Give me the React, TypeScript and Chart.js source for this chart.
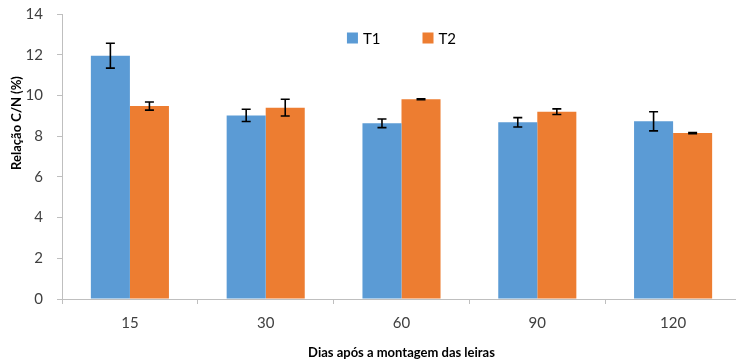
import React, { useEffect, useRef } from "react";
import { Chart, registerables } from "chart.js";

Chart.register(...registerables);

const categories = ["15", "30", "60", "90", "120"];
const t1Values = [11.95, 9.02, 8.63, 8.68, 8.73];
const t1Errors = [0.61, 0.3, 0.21, 0.23, 0.47];
const t2Values = [9.48, 9.4, 9.81, 9.2, 8.15];
const t2Errors = [0.2, 0.41, 0.02, 0.14, 0.03];
const seriesNames = ["T1", "T2"];
const seriesColors = ["#5B9BD5", "#ED7D31"];
const yTicks = [0, 2, 4, 6, 8, 10, 12, 14];

const FONT = "Lato, 'Liberation Sans', sans-serif";
const AXIS_GRAY = "#BFBFBF";
const TEXT_COLOR = "#404040";

const errorBars = {
  id: "errorBars",
  afterDatasetsDraw(chart: any) {
    const ctx = chart.ctx;
    const yScale = chart.scales.y;
    const errs = [t1Errors, t2Errors];
    ctx.save();
    ctx.strokeStyle = "#000000";
    ctx.lineWidth = 1.6;
    chart.data.datasets.forEach((ds: any, di: number) => {
      const meta = chart.getDatasetMeta(di);
      meta.data.forEach((bar: any, i: number) => {
        const v = ds.data[i];
        const e = errs[di][i];
        const x = bar.x;
        const yTop = yScale.getPixelForValue(v + e);
        const yBot = yScale.getPixelForValue(v - e);
        const cap = 4.5;
        ctx.beginPath();
        ctx.moveTo(x, yTop);
        ctx.lineTo(x, yBot);
        ctx.moveTo(x - cap, yTop);
        ctx.lineTo(x + cap, yTop);
        ctx.moveTo(x - cap, yBot);
        ctx.lineTo(x + cap, yBot);
        ctx.stroke();
      });
    });
    ctx.restore();
  },
};

const innerLegend = {
  id: "innerLegend",
  afterDraw(chart: any) {
    const ctx = chart.ctx;
    const area = chart.chartArea;
    const box = 11;
    const gap = 5;
    const spacing = 42;
    ctx.save();
    ctx.font = `15px ${FONT}`;
    const widths = seriesNames.map((n) => ctx.measureText(n).width);
    const total =
      widths.reduce((a, w) => a + box + gap + w, 0) + spacing * (seriesNames.length - 1);
    let x = (area.left + area.right) / 2 - total / 2;
    const cy = 38;
    seriesNames.forEach((name, i) => {
      ctx.fillStyle = seriesColors[i];
      ctx.fillRect(x, cy - box / 2, box, box);
      ctx.fillStyle = "#000000";
      ctx.textBaseline = "middle";
      ctx.textAlign = "left";
      ctx.fillText(name, x + box + gap, cy + 1);
      x += box + gap + widths[i] + spacing;
    });
    ctx.restore();
  },
};

const yTitle = {
  id: "yTitle",
  afterDraw(chart: any) {
    const ctx = chart.ctx;
    ctx.save();
    ctx.translate(17, 123);
    ctx.rotate(-Math.PI / 2);
    ctx.font = `bold 13px ${FONT}`;
    ctx.fillStyle = "#000000";
    ctx.textAlign = "center";
    ctx.textBaseline = "middle";
    ctx.fillText("Relação C/N (%)", 0, 0);
    ctx.restore();
  },
};

export default function App() {
  const canvasRef = useRef<HTMLCanvasElement | null>(null);

  useEffect(() => {
    if (!canvasRef.current) return;
    const chart = new Chart(canvasRef.current, {
      type: "bar",
      data: {
        labels: categories,
        datasets: [
          {
            label: seriesNames[0],
            data: t1Values,
            backgroundColor: seriesColors[0],
          },
          {
            label: seriesNames[1],
            data: t2Values,
            backgroundColor: seriesColors[1],
          },
        ],
      },
      options: {
        animation: false,
        responsive: false,
        maintainAspectRatio: false,
        layout: { padding: { top: 14, right: 0, left: 0, bottom: 0 } },
        datasets: {
          bar: { categoryPercentage: 0.575, barPercentage: 1 },
        },
        plugins: {
          legend: { display: false },
          tooltip: { enabled: false },
        },
        scales: {
          x: {
            grid: {
              display: true,
              drawOnChartArea: false,
              drawTicks: true,
              tickLength: 5,
              color: AXIS_GRAY,
              offset: true,
            },
            border: { color: AXIS_GRAY },
            ticks: {
              font: { family: FONT, size: 15 },
              color: TEXT_COLOR,
              padding: 10,
            },
            title: {
              display: true,
              text: "Dias após a montagem das leiras",
              font: { family: FONT, size: 13, weight: "bold" },
              color: "#000000",
              padding: { top: 6, bottom: 2 },
            },
            afterFit(scale: any) {
              scale.height = 64;
              scale.paddingLeft = 0;
              scale.paddingRight = 0;
            },
          },
          y: {
            min: 0,
            max: 14,
            afterBuildTicks(scale: any) {
              scale.ticks = yTicks.map((v) => ({ value: v }));
            },
            grid: {
              display: true,
              drawOnChartArea: false,
              drawTicks: true,
              tickLength: 5,
              color: AXIS_GRAY,
            },
            border: { color: AXIS_GRAY },
            ticks: {
              font: { family: FONT, size: 15 },
              color: TEXT_COLOR,
              padding: 14,
            },
            afterFit(scale: any) {
              scale.width = 62;
              scale.paddingTop = 0;
              scale.paddingBottom = 0;
            },
          },
        },
      },
      plugins: [errorBars, innerLegend, yTitle],
    });
    return () => chart.destroy();
  }, []);

  return (
    <div
      style={{
        position: "fixed",
        left: 0,
        top: 0,
        width: 736,
        height: 363,
        overflow: "hidden",
        background: "#ffffff",
      }}
    >
      <canvas ref={canvasRef} width={741} height={363} style={{ display: "block" }} />
    </div>
  );
}
